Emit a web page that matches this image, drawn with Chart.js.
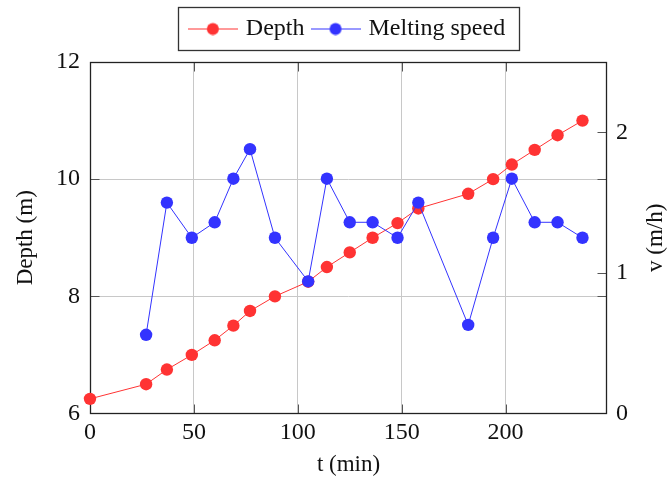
<!DOCTYPE html>
<html><head><meta charset="utf-8">
<script src="https://cdn.jsdelivr.net/npm/chart.js@4.4.1/dist/chart.umd.min.js"></script>
<style>html,body{margin:0;padding:0;background:#fff;} canvas{display:block;}</style>
</head><body>
<canvas id="c" width="668" height="479"></canvas>
<script>
// ---- data ----
const timeMin = [0, 27, 37, 49, 60, 69, 77, 89, 105, 114, 125, 136, 148, 158, 182, 194, 203, 214, 225, 237];
const depthM = [6.25, 6.5, 6.75, 7.0, 7.25, 7.5, 7.75, 8.0, 8.25, 8.5, 8.75, 9.0, 9.25, 9.5, 9.75, 10.0, 10.25, 10.5, 10.75, 11.0];
const speedTimeMin = [27, 37, 49, 60, 69, 77, 89, 105, 114, 125, 136, 148, 158, 182, 194, 203, 214, 225, 237];
const speedMH = [0.56, 1.5, 1.25, 1.36, 1.67, 1.88, 1.25, 0.94, 1.67, 1.36, 1.36, 1.25, 1.5, 0.63, 1.25, 1.67, 1.36, 1.36, 1.25];
const xTickValues = [0, 50, 100, 150, 200];
const depthTickValues = [6, 8, 10, 12];
const speedTickValues = [0, 1, 2];
const seriesNames = ['Depth', 'Melting speed'];
const xTitle = 't (min)';
const yTitle = 'Depth (m)';
const y2Title = 'v (m/h)';

const RED = '#ff3333', BLUE = '#3333ff';
const FONT = 'Liberation Serif';
const TXT = '#111111';
Chart.defaults.font.family = FONT;
Chart.defaults.color = TXT;

function marker(color) {
  const c = document.createElement('canvas');
  c.width = 50; c.height = 14;
  const g = c.getContext('2d');
  g.strokeStyle = color; g.lineWidth = 1;
  g.beginPath(); g.moveTo(0, 7.5); g.lineTo(50, 7.5); g.stroke();
  g.fillStyle = color;
  g.beginPath(); g.arc(25, 7.5, 6, 0, Math.PI * 2); g.fill();
  return c;
}
const markers = [marker(RED), marker(BLUE)];

const decoPlugin = {
  id: 'deco',
  beforeDatasetsDraw(chart) {
    const {ctx, chartArea: a, scales} = chart;
    const L = Math.round(a.left) + 0.5, R = Math.round(a.right) - 0.5;
    const T = Math.round(a.top) + 0.5, B = Math.round(a.bottom) - 0.5;
    const tl = 9;
    ctx.save();
    ctx.strokeStyle = '#555'; ctx.lineWidth = 1;
    ctx.beginPath();
    xTickValues.forEach(v => {
      if (v === scales.x.min || v === scales.x.max) return;
      const px = Math.round(scales.x.getPixelForValue(v)) + 0.5;
      ctx.moveTo(px, B); ctx.lineTo(px, B - tl);
      ctx.moveTo(px, T); ctx.lineTo(px, T + tl);
    });
    depthTickValues.forEach(v => {
      if (v === scales.y.min || v === scales.y.max) return;
      const py = Math.round(scales.y.getPixelForValue(v)) + 0.5;
      ctx.moveTo(L, py); ctx.lineTo(L + tl, py);
      ctx.moveTo(R, py); ctx.lineTo(R - tl, py);
    });
    speedTickValues.forEach(v => {
      if (v === scales.y2.min || v === scales.y2.max) return;
      const py = Math.round(scales.y2.getPixelForValue(v)) + 0.5;
      ctx.moveTo(R, py); ctx.lineTo(R - tl, py);
    });
    ctx.stroke();
    ctx.strokeStyle = '#222'; ctx.lineWidth = 1.3;
    ctx.strokeRect(L, T, R - L, B - T);
    ctx.restore();
  },
  afterDraw(chart) {
    const {ctx, chartArea: a} = chart;
    ctx.save();
    // right axis title, reading bottom to top
    ctx.translate(656, (a.top + a.bottom) / 2);
    ctx.rotate(-Math.PI / 2);
    ctx.font = '23px "' + FONT + '"';
    ctx.fillStyle = TXT;
    ctx.textAlign = 'center';
    ctx.textBaseline = 'middle';
    ctx.fillText(y2Title, 0, 0);
    ctx.restore();
    // legend frame
    const lg = chart.legend;
    const hb = lg && lg.legendHitBoxes;
    if (hb && hb.length) {
      const left = hb[0].left - 4 - 10;
      const last = hb[hb.length - 1];
      const right = last.left + last.width + 14;
      const cy = lg.top + 10 + 12;
      ctx.save();
      ctx.strokeStyle = '#333'; ctx.lineWidth = 1.3;
      ctx.strokeRect(Math.round(left) + 0.5, Math.round(cy - 21.5) + 0.5, Math.round(right - left), 43);
      ctx.restore();
    }
  }
};

const gridColor = '#c8c8c8';

new Chart(document.getElementById('c'), {
  type: 'line',
  data: {
    datasets: [
      {
        label: seriesNames[0],
        data: timeMin.map((t, i) => ({x: t, y: depthM[i]})),
        yAxisID: 'y',
        borderColor: RED, backgroundColor: RED, borderWidth: 1,
        pointRadius: 6.2, pointBorderWidth: 0,
        pointBackgroundColor: RED, pointBorderColor: RED,
        tension: 0, clip: false, order: 1
      },
      {
        label: seriesNames[1],
        data: speedTimeMin.map((t, i) => ({x: t, y: speedMH[i]})),
        yAxisID: 'y2',
        borderColor: BLUE, backgroundColor: BLUE, borderWidth: 1,
        pointRadius: 6.2, pointBorderWidth: 0,
        pointBackgroundColor: BLUE, pointBorderColor: BLUE,
        tension: 0, clip: false, order: 0
      }
    ]
  },
  options: {
    responsive: false,
    animation: false,
    events: [],
    layout: {padding: {top: 6.5, left: 0, right: 0, bottom: 0}},
    plugins: {
      tooltip: {enabled: false},
      title: {display: true, text: ' ', font: {size: 1}, padding: {top: 0, bottom: 10.3}, weight: 500, position: 'top'},
      legend: {
        position: 'top',
        fullSize: false,
        labels: {
          usePointStyle: true,
          pointStyleWidth: 42,
          padding: 10,
          font: {size: 24, family: FONT},
          color: TXT,
          generateLabels: (chart) => chart.data.datasets.map((ds, i) => ({
            text: ds.label,
            pointStyle: markers[i],
            datasetIndex: i,
            hidden: false,
            fontColor: TXT,
            lineWidth: 0,
            strokeStyle: 'transparent',
            fillStyle: 'transparent'
          }))
        }
      }
    },
    scales: {
      x: {
        type: 'linear', position: 'bottom', min: 0, max: 248.8,
        afterBuildTicks: s => { s.ticks = xTickValues.map(v => ({value: v})); },
        afterFit: s => { s.height = 65.5; },
        grid: {color: gridColor, lineWidth: 1, drawTicks: false},
        border: {display: false},
        ticks: {padding: 5, font: {size: 24}, color: TXT, maxRotation: 0, autoSkip: false},
        title: {display: true, text: xTitle, font: {size: 23}, color: TXT, padding: {top: 0, bottom: 0}}
      },
      y: {
        type: 'linear', position: 'left', min: 6, max: 12,
        afterBuildTicks: s => { s.ticks = depthTickValues.map(v => ({value: v})); },
        afterFit: s => { s.width = 90; },
        grid: {color: gridColor, lineWidth: 1, drawTicks: false},
        border: {display: false},
        ticks: {padding: 10, font: {size: 24}, color: TXT},
        title: {display: true, text: yTitle, font: {size: 23}, color: TXT, padding: {top: 12, bottom: 0}}
      },
      y2: {
        type: 'linear', position: 'right', min: 0, max: 2.5,
        afterBuildTicks: s => { s.ticks = speedTickValues.map(v => ({value: v})); },
        afterFit: s => { s.width = 61; },
        grid: {display: false, drawTicks: false},
        border: {display: false},
        ticks: {padding: 9, font: {size: 24}, color: TXT},
        title: {display: false}
      }
    }
  },
  plugins: [decoPlugin]
});
</script>
</body></html>
